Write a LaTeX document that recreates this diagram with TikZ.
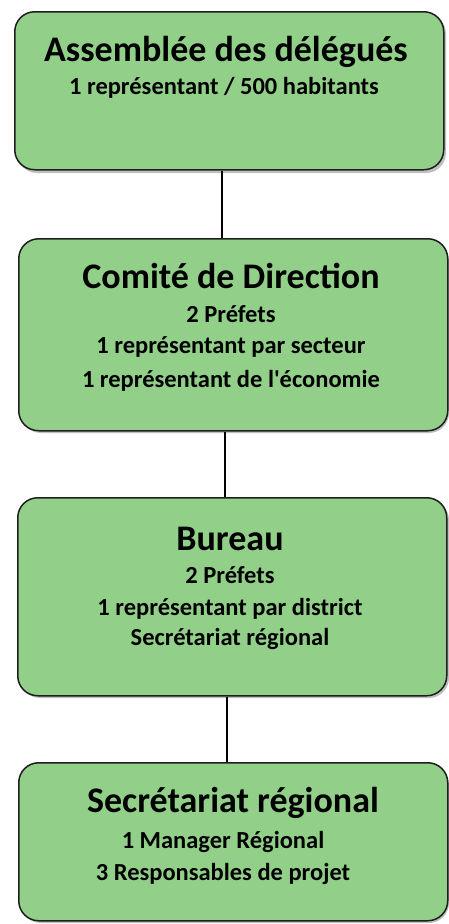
\documentclass[tikz,border=0pt]{standalone}
\usepackage{fontspec}
\setmainfont{Carlito}
\definecolor{boxgreen}{RGB}{146,208,138}
\definecolor{boxline}{RGB}{30,30,30}
\begin{document}
\begin{tikzpicture}[x=1pt,y=-1pt,
  box/.style={draw=boxline,line width=1.5pt,fill=boxgreen,rounded corners=20pt,inner sep=0pt,anchor=north west},
  ttl/.style={font=\bfseries\fontsize{36}{36}\selectfont,anchor=base,inner sep=0pt},
  sub/.style={font=\bfseries\fontsize{24.5}{25}\selectfont,anchor=base,inner sep=0pt},
  conn/.style={draw=black,line width=2.5pt}]
\useasboundingbox (0,0) rectangle (449,924);
% shadows
\fill[black!25,rounded corners=20pt] (17,14) rectangle (446,173);
\fill[black!25,rounded corners=20pt] (21,241) rectangle (449,433);
\fill[black!25,rounded corners=20pt] (20,500) rectangle (449,698);
\fill[black!25,rounded corners=20pt] (21,765) rectangle (449,923);
\node[box,minimum width=429pt,minimum height=158pt] (b1) at (14,11) {};
\node[box,minimum width=429pt,minimum height=192pt] (b2) at (18,238) {};
\node[box,minimum width=429pt,minimum height=198pt] (b3) at (17,497) {};
\node[box,minimum width=429pt,minimum height=158pt] (b4) at (18,762) {};
\draw[conn] (b1.south -| 222,0) -- (b2.north -| 222,0);
\draw[conn] (b2.south -| 225,0) -- (b3.north -| 225,0);
\draw[conn] (b3.south -| 227,0) -- (b4.north -| 227,0);
% texts
\node[ttl] (t1) at (226,61) {Assemblée des délégués};
\node[sub] (s1a) at (224,94) {1 représentant / 500 habitants};
\node[ttl] (t2) at (231,288) {Comité de Direction};
\node[sub] (s2a) at (231,322) {2 Préfets};
\node[sub] (s2b) at (231,353) {1 représentant par secteur};
\node[sub] (s2c) at (231,387) {1 représentant de l\textquotesingle économie};
\node[ttl] (t3) at (230,550) {Bureau};
\node[sub] (s3a) at (230,583) {2 Préfets};
\node[sub] (s3b) at (230,615) {1 représentant par district};
\node[sub] (s3c) at (230,645) {Secrétariat régional};
\node[ttl] (t4) at (233,812) {Secrétariat régional};
\node[sub] (s4a) at (223,848) {1 Manager Régional};
\node[sub] (s4b) at (223,880) {3 Responsables de projet};
\end{tikzpicture}
\end{document}
